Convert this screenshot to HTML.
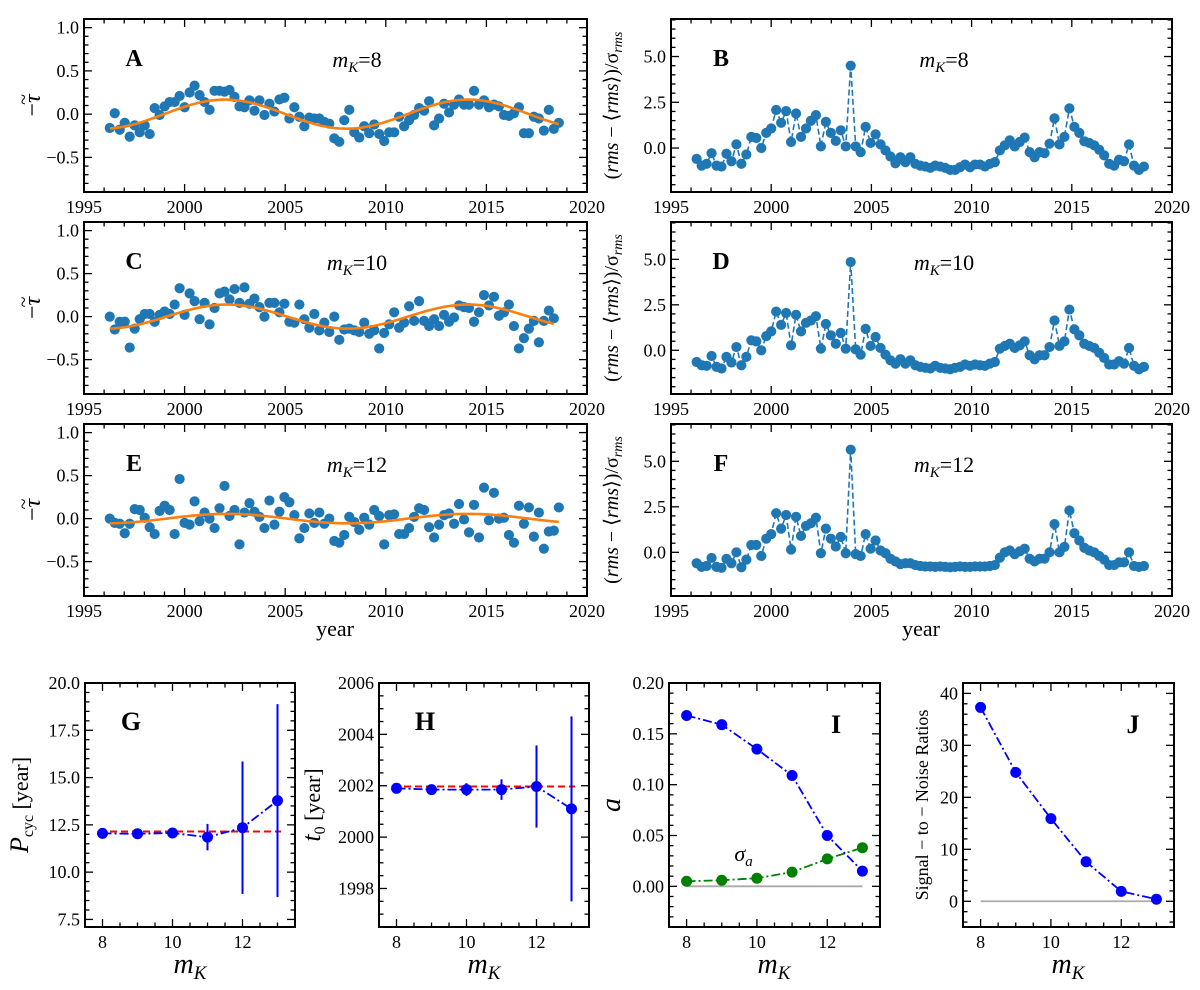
<!DOCTYPE html>
<html><head><meta charset="utf-8"><style>
html,body{margin:0;padding:0;background:#fff;}
svg{display:block;font-family:"Liberation Serif","DejaVu Serif",serif;}
svg text{font-family:"Liberation Serif","DejaVu Serif",serif;}
</style></head><body>
<svg id="fig" width="1200" height="990" viewBox="0 0 1200 990" xmlns="http://www.w3.org/2000/svg"></svg>
<script>
// ---------- data ----------
const tStart = 1996.28, tStep = 0.248;
const tauA = [-0.16,0.01,-0.18,-0.1,-0.26,-0.13,-0.21,-0.13,-0.23,0.07,
-0.01,0.09,0.14,0.14,0.21,0.08,0.25,0.33,0.22,0.14,
0.05,0.27,0.27,0.26,0.28,0.2,0.09,0.08,0.16,0.04,
0.16,-0.01,0.12,0.03,0.17,0.19,-0.05,0.08,-0.03,-0.14,
-0.04,-0.05,-0.05,-0.09,-0.11,-0.28,-0.32,-0.07,0.05,-0.21,
-0.27,-0.14,-0.22,-0.12,-0.23,-0.31,-0.21,-0.21,-0.03,-0.14,
-0.07,-0.01,0.07,0.04,0.15,-0.13,-0.05,0.12,0.02,0.11,
0.17,0.11,0.11,0.27,0.11,0.16,0.08,0.11,0.09,-0.01,
-0.02,0.01,0.08,-0.22,-0.22,-0.03,-0.05,-0.19,0.05,-0.17,-0.1];
const tauC = [0.0,-0.15,-0.06,-0.06,-0.36,-0.14,-0.03,0.03,0.03,-0.06,
0.02,0.06,0.03,0.14,0.33,0.02,0.27,0.18,-0.03,0.16,
-0.09,0.1,0.27,0.29,0.2,0.32,0.16,0.34,0.15,0.21,
0.11,0.0,0.16,0.16,0.05,0.15,-0.06,-0.07,0.14,-0.03,
-0.13,0.03,-0.16,-0.07,-0.18,0.0,-0.27,-0.15,-0.14,-0.16,
-0.18,-0.07,-0.2,-0.16,-0.37,-0.19,-0.09,0.05,-0.13,-0.07,
0.12,-0.05,0.18,-0.05,-0.11,-0.03,-0.11,0.02,-0.06,-0.01,
0.13,0.11,0.1,-0.06,0.05,0.25,0.13,0.23,0.01,0.05,
0.14,-0.11,-0.37,-0.25,-0.14,-0.05,-0.3,-0.05,0.07,-0.02];
const tauE = [0.0,-0.05,-0.06,-0.17,-0.06,0.11,0.1,0.01,-0.1,-0.18,
0.09,0.15,0.1,-0.18,0.46,-0.05,-0.07,0.2,-0.03,0.07,
0.0,-0.11,0.12,0.38,0.03,0.1,-0.3,0.07,0.18,0.08,
0.02,-0.11,0.21,-0.07,0.08,0.25,0.19,0.04,-0.23,-0.11,
0.06,-0.05,0.07,-0.06,0.0,-0.26,-0.28,-0.19,0.02,-0.04,
-0.13,0.01,-0.07,0.1,0.03,-0.3,0.04,0.05,-0.18,-0.18,
-0.11,0.02,0.12,0.1,-0.1,-0.22,-0.07,0.04,0.06,-0.06,
0.17,-0.01,-0.16,0.16,-0.22,0.36,-0.02,0.3,0.0,0.01,
-0.19,-0.28,0.15,-0.06,0.13,-0.21,0.07,-0.35,-0.15,-0.14,0.13];
const rmsB = [-0.59,-0.96,-0.86,-0.28,-0.96,-1.01,-0.31,-0.72,0.2,-0.86,
-0.35,0.61,0.55,0.0,0.83,1.07,2.08,1.38,2.02,0.33,
1.89,0.61,1.07,1.49,1.8,0.09,1.43,0.83,0.39,0.97,
0.09,4.5,0.09,-0.22,1.16,0.28,0.75,0.2,-0.13,-0.46,
-0.83,-0.5,-0.77,-0.5,-0.86,-0.96,-1.01,-1.08,-0.96,-1.01,
-1.08,-1.19,-1.19,-1.05,-0.9,-1.05,-0.9,-0.9,-1.01,-0.86,
-0.77,-0.13,0.15,0.42,0.09,0.33,0.57,-0.22,-0.5,-0.22,
-0.28,0.24,1.62,0.2,0.61,2.17,1.16,0.83,0.37,0.28,
0.15,-0.09,-0.4,-0.86,-0.96,-0.64,-0.72,0.2,-0.96,-1.19,-1.01];
const rmsD = [-0.64,-0.82,-0.85,-0.31,-0.91,-1.0,-0.36,-0.67,0.18,-0.82,
-0.36,0.55,0.49,0.0,0.78,1.04,2.13,1.4,2.05,0.27,
1.95,1.04,1.51,1.64,1.87,0.09,1.45,0.82,0.36,0.96,
0.09,4.85,0.05,-0.24,1.18,0.24,0.73,0.13,-0.24,-0.55,
-0.73,-0.49,-0.73,-0.55,-0.82,-0.91,-0.96,-1.0,-0.85,-0.96,
-1.0,-1.04,-0.96,-0.91,-0.78,-0.85,-0.78,-0.82,-0.85,-0.73,
-0.64,0.09,0.24,0.36,0.13,0.27,0.49,-0.27,-0.49,-0.27,
-0.27,0.18,1.64,0.24,0.49,2.24,1.15,0.82,0.36,0.24,
0.13,-0.13,-0.42,-0.78,-0.78,-0.6,-0.73,0.13,-0.85,-1.04,-0.91];
const rmsF = [-0.6,-0.8,-0.75,-0.31,-0.8,-0.85,-0.36,-0.6,0.0,-0.82,
-0.4,0.4,0.4,-0.2,0.75,1.0,2.15,1.3,2.05,0.15,
1.95,0.9,1.45,1.6,1.9,-0.05,1.3,0.75,0.32,0.85,
-0.05,5.64,-0.1,-0.2,1.0,0.2,0.65,0.1,-0.05,-0.35,
-0.5,-0.65,-0.6,-0.6,-0.7,-0.75,-0.78,-0.78,-0.8,-0.78,
-0.8,-0.82,-0.8,-0.78,-0.8,-0.8,-0.78,-0.78,-0.78,-0.75,
-0.7,-0.3,0.0,0.1,-0.1,0.05,0.2,-0.35,-0.5,-0.35,
-0.35,0.0,1.55,0.0,0.3,2.3,1.05,0.65,0.25,0.1,
0.0,-0.2,-0.4,-0.7,-0.7,-0.55,-0.55,0.0,-0.75,-0.8,-0.75];
// fit parameters for A, C, E
const fitAmp = [0.168, 0.14, 0.055];
const fitPeriod = [12.1, 12.0, 12.0];
const fitPeak = [2002.0, 2002.1, 2002.1];
// bottom-row data
const magK = [8,9,10,11,12,13];
const pcyc = [12.05,12.03,12.07,11.85,12.35,13.78];
const pcycErr = [0.1,0.1,0.12,0.7,3.5,5.1];
const pcycRef = [12.15];
const t0v = [2001.9,2001.85,2001.85,2001.85,2001.97,2001.1];
const t0Err = [0.1,0.1,0.25,0.4,1.6,3.6];
const t0Ref = [2001.97];
const ampA = [0.168,0.159,0.135,0.109,0.050,0.015];
const sigA = [0.005,0.006,0.008,0.014,0.027,0.038];
const snr = [37.3,24.8,15.9,7.6,1.9,0.4];

// ---------- helpers ----------
const NS="http://www.w3.org/2000/svg";
const svg=document.getElementById('fig');
function mk(tag,attrs,parent){const e=document.createElementNS(NS,tag);for(const k in attrs)e.setAttribute(k,attrs[k]);(parent||svg).appendChild(e);return e;}
function fmt(v,d){const s=Math.abs(v).toFixed(d);return (v<-1e-9?'\u2212':'')+s;}

function axes(c){
  const g=mk('g',{});
  
  
  const X=v=>c.x0+(v-c.xl[0])/(c.xl[1]-c.xl[0])*(c.x1-c.x0);
  const Y=v=>c.y1-(v-c.yl[0])/(c.yl[1]-c.yl[0])*(c.y1-c.y0);
  const tk=mk('g',{stroke:'#000','stroke-width':1.3},g);
  function ticks(lo,hi,step){const r=[];const n0=Math.ceil(lo/step-1e-6),n1=Math.floor(hi/step+1e-6);for(let n=n0;n<=n1;n++)r.push(+(n*step).toFixed(6));return r;}
  const isMaj=(v,s)=>Math.abs(v/s-Math.round(v/s))<1e-6;
  ticks(c.xl[0],c.xl[1],c.xmin).forEach(v=>{const L=isMaj(v,c.xmaj)?8:4.5,x=X(v);
    mk('line',{x1:x,x2:x,y1:c.y1,y2:c.y1-L},tk);mk('line',{x1:x,x2:x,y1:c.y0,y2:c.y0+L},tk);});
  ticks(c.yl[0],c.yl[1],c.ymin).forEach(v=>{const L=isMaj(v,c.ymaj)?8:4.5,y=Y(v);
    mk('line',{x1:c.x0,x2:c.x0+L,y1:y,y2:y},tk);mk('line',{x1:c.x1,x2:c.x1-L,y1:y,y2:y},tk);});
  const xl=mk('g',{'font-size':c.fs||18,'text-anchor':'middle',fill:'#000'},g);
  
  ticks(c.xl[0],c.xl[1],c.xmaj).forEach(v=>{const t=mk('text',{x:X(v),y:c.y1+21},xl);t.textContent=fmt(v,c.xd||0);});
  const yl=mk('g',{'font-size':c.fs||18,'text-anchor':'end',fill:'#000'},g);
  
  ticks(c.yl[0],c.yl[1],c.ymaj).forEach(v=>{const t=mk('text',{x:c.x0-5,y:Y(v)+6},yl);t.textContent=fmt(v,c.yd||0);});
  const plot=mk('g',{},g);
  mk('rect',{x:c.x0,y:c.y0,width:c.x1-c.x0,height:c.y1-c.y0,fill:'none',stroke:'#000','stroke-width':2},g);
  return {X,Y,g,plot};
}
function label(x,y,txt,size,weight,name){const t=mk('text',{x:x,y:y,'font-size':size,'font-weight':weight||'normal','text-anchor':'middle'});t.textContent=txt;return t;}
function mkLabel(x,y,val,name){const t=mk('text',{x:x,y:y,'font-size':22,'text-anchor':'middle'});
  
  const a=mk('tspan',{'font-style':'italic'},t);a.textContent='m';
  const b=mk('tspan',{'font-style':'italic','font-size':15,dy:5},t);b.textContent='K';
  const c=mk('tspan',{dy:-5},t);c.textContent='='+val;}
function rotLabel(x,y,parts,name,size){const t=mk('text',{x:x,y:y,'font-size':size||22,'text-anchor':'middle',transform:`rotate(-90 ${x} ${y})`});
  
  parts.forEach(p=>{const s=mk('tspan',p.a||{},t);s.textContent=p.t;});}
function tauLabel(x,y,name){
  const t=mk('text',{x:x,y:y,'font-size':24,'text-anchor':'middle',transform:`rotate(-90 ${x} ${y})`});
  
  const a=mk('tspan',{},t);a.textContent='\u2212';
  const b=mk('tspan',{'font-style':'italic'},t);b.textContent='\u03c4';
  const tl=mk('text',{x:x+6,y:y-10,'font-size':20,'text-anchor':'middle',transform:`rotate(-90 ${x} ${y})`});
  
  tl.textContent='~';
}

const colL=[84,587], colR=[671,1172];
const rows=[[19,192],[222,394],[424,596]];
const tauSets=[tauA,tauC,tauE], rmsSets=[rmsB,rmsD,rmsF];
const lettersL=['A','C','E'], lettersR=['B','D','F'], mags=['8','10','12'];

rows.forEach((r,ri)=>{
  const a=axes({name:'panel-'+lettersL[ri].toLowerCase(),x0:colL[0],x1:colL[1],y0:r[0],y1:r[1],xl:[1995,2020],yl:[-0.9,1.1],xmaj:5,xmin:1,ymaj:0.5,ymin:0.1,yd:1});
  const pts=mk('g',{fill:'#1f77b4'},a.plot);
  tauSets[ri].forEach((v,i)=>{const c=mk('circle',{cx:a.X(tStart+i*tStep),cy:a.Y(v),r:5.1},pts);
    
    });
  let d='';const tEnd=tStart+(tauSets[ri].length-1)*tStep;
  for(let k=0;k<=200;k++){const t=tStart+(tEnd-tStart)*k/200;const v=fitAmp[ri]*Math.cos(2*Math.PI*(t-fitPeak[ri])/fitPeriod[ri]);d+=(k?'L':'M')+a.X(t).toFixed(1)+','+a.Y(v).toFixed(1);}
  const fl=mk('path',{d:d,fill:'none',stroke:'#ff7f0e','stroke-width':2.6},a.plot);
  
  
  label(134,r[0]+47,lettersL[ri],24,'bold','panel-letter-'+lettersL[ri].toLowerCase());
  mkLabel(357,r[0]+48,mags[ri],'mk-label-'+lettersL[ri].toLowerCase());
  tauLabel(40,(r[0]+r[1])/2,'y-axis-title-tau');

  const b=axes({name:'panel-'+lettersR[ri].toLowerCase(),x0:colR[0],x1:colR[1],y0:r[0],y1:r[1],xl:[1995,2020],yl:[-2.4,7.05],xmaj:5,xmin:1,ymaj:2.5,ymin:0.5,yd:1});
  let dl='';rmsSets[ri].forEach((v,i)=>{dl+=(i?'L':'M')+b.X(tStart+i*tStep).toFixed(1)+','+b.Y(v).toFixed(1);});
  const ln=mk('path',{d:dl,fill:'none',stroke:'#1f77b4','stroke-width':1.6,'stroke-dasharray':'6,3'},b.plot);
  
  
  const pb=mk('g',{fill:'#1f77b4'},b.plot);
  rmsSets[ri].forEach((v,i)=>{const c=mk('circle',{cx:b.X(tStart+i*tStep),cy:b.Y(v),r:5.1},pb);
    
    });
  label(721,r[0]+47,lettersR[ri],24,'bold','panel-letter-'+lettersR[ri].toLowerCase());
  mkLabel(944,r[0]+48,mags[ri],'mk-label-'+lettersR[ri].toLowerCase());
  rotLabel(618,(r[0]+r[1])/2,[{t:'('},{t:'rms',a:{'font-style':'italic'}},{t:' \u2212 \u27e8'},{t:'rms',a:{'font-style':'italic'}},{t:'\u27e9)/\u03c3',a:{}},{t:'rms',a:{'font-style':'italic','font-size':14,dy:4}}],'y-axis-title-rms',20);
});
label(335,636,'year',22,'normal','x-axis-title-left');
label(921,636,'year',22,'normal','x-axis-title-right');

// ---------- bottom row ----------
const by=[683,927];
function mkAxisTitle(cx,name){const t=mk('text',{x:cx,y:973,'font-size':28,'text-anchor':'middle'});
  
  const a=mk('tspan',{'font-style':'italic'},t);a.textContent='m';
  const b=mk('tspan',{'font-style':'italic','font-size':19,dy:6},t);b.textContent='K';}
function blueSeries(ax,vals,color,dash,nm){
  let d='';vals.forEach((v,i)=>{d+=(i?'L':'M')+ax.X(magK[i]).toFixed(1)+','+ax.Y(v).toFixed(1);});
  const p=mk('path',{d:d,fill:'none',stroke:color,'stroke-width':1.8,'stroke-dasharray':dash},ax.plot);
  
  
  vals.forEach((v,i)=>{const c=mk('circle',{cx:ax.X(magK[i]),cy:ax.Y(v),r:5.5,fill:color},ax.plot);
    
    });
}
function errBars(ax,vals,errs){vals.forEach((v,i)=>{const l=mk('line',{x1:ax.X(magK[i]),x2:ax.X(magK[i]),y1:ax.Y(v-errs[i]),y2:ax.Y(v+errs[i]),stroke:'#0000ff','stroke-width':2},ax.plot);
  
  });}
function hline(ax,v,x0,x1,color,dash,w,nm){const l=mk('line',{x1:ax.X(x0),x2:ax.X(x1),y1:ax.Y(v),y2:ax.Y(v),stroke:color,'stroke-width':w,'stroke-dasharray':dash},ax.plot);
  }
const DD='9,3,2,3';

const G=axes({name:'panel-g',x0:85,x1:295,y0:by[0],y1:by[1],xl:[7.5,13.5],yl:[7.1,20],xmaj:2,xmin:0.5,ymaj:2.5,ymin:0.5,yd:1,fs:18});
hline(G,pcycRef[0],7.9,13.1,'#ff0000','7,4',2,'reference-period-line');
errBars(G,pcyc,pcycErr);blueSeries(G,pcyc,'#0000ff',DD,'period');
label(131,730,'G',26,'bold','panel-letter-g');
rotLabel(28,805,[{t:'P',a:{'font-style':'italic','font-size':26}},{t:'cyc',a:{'font-size':16,dy:5}},{t:' [year]',a:{dy:-5}}],'y-axis-title-period',22);
mkAxisTitle(190,'x-axis-title-g');

const H=axes({name:'panel-h',x0:379,x1:589,y0:by[0],y1:by[1],xl:[7.5,13.5],yl:[1996.5,2006],xmaj:2,xmin:0.5,ymaj:2,ymin:0.5,fs:18});
hline(H,t0Ref[0],7.9,13.1,'#ff0000','7,4',2,'reference-t0-line');
errBars(H,t0v,t0Err);blueSeries(H,t0v,'#0000ff',DD,'t0');
label(425,730,'H',26,'bold','panel-letter-h');
rotLabel(320,805,[{t:'t',a:{'font-style':'italic','font-size':26}},{t:'0',a:{'font-size':16,dy:5}},{t:' [year]',a:{dy:-5}}],'y-axis-title-t0',22);
mkAxisTitle(484,'x-axis-title-h');

const I=axes({name:'panel-i',x0:669,x1:880,y0:by[0],y1:by[1],xl:[7.5,13.5],yl:[-0.04,0.2],xmaj:2,xmin:0.5,ymaj:0.05,ymin:0.01,yd:2,fs:18});
hline(I,0,8,13,'#aaaaaa','',1.8,'zero-line-i');
blueSeries(I,sigA,'#008000',DD,'sigma-a');
blueSeries(I,ampA,'#0000ff',DD,'amplitude');
label(836,733,'I',26,'bold','panel-letter-i');
const sg=mk('text',{x:I.X(9.62),y:I.Y(0.025),'font-size':22,'text-anchor':'middle','font-style':'italic'});

const s1=mk('tspan',{},sg);s1.textContent='\u03c3';const s2=mk('tspan',{'font-size':15,dy:5},sg);s2.textContent='a';
rotLabel(620,805,[{t:'a',a:{'font-style':'italic','font-size':28}}],'y-axis-title-a',28);
mkAxisTitle(774,'x-axis-title-i');

const J=axes({name:'panel-j',x0:963,x1:1174,y0:by[0],y1:by[1],xl:[7.5,13.5],yl:[-4.95,42],xmaj:2,xmin:0.5,ymaj:10,ymin:2,fs:18});
hline(J,0,8,13,'#aaaaaa','',1.8,'zero-line-j');
blueSeries(J,snr,'#0000ff',DD,'snr');
label(1133,733,'J',26,'bold','panel-letter-j');
rotLabel(928,805,[{t:'Signal \u2212 to \u2212 Noise Ratios'}],'y-axis-title-snr',18);
mkAxisTitle(1068,'x-axis-title-j');
</script>
</body></html>
